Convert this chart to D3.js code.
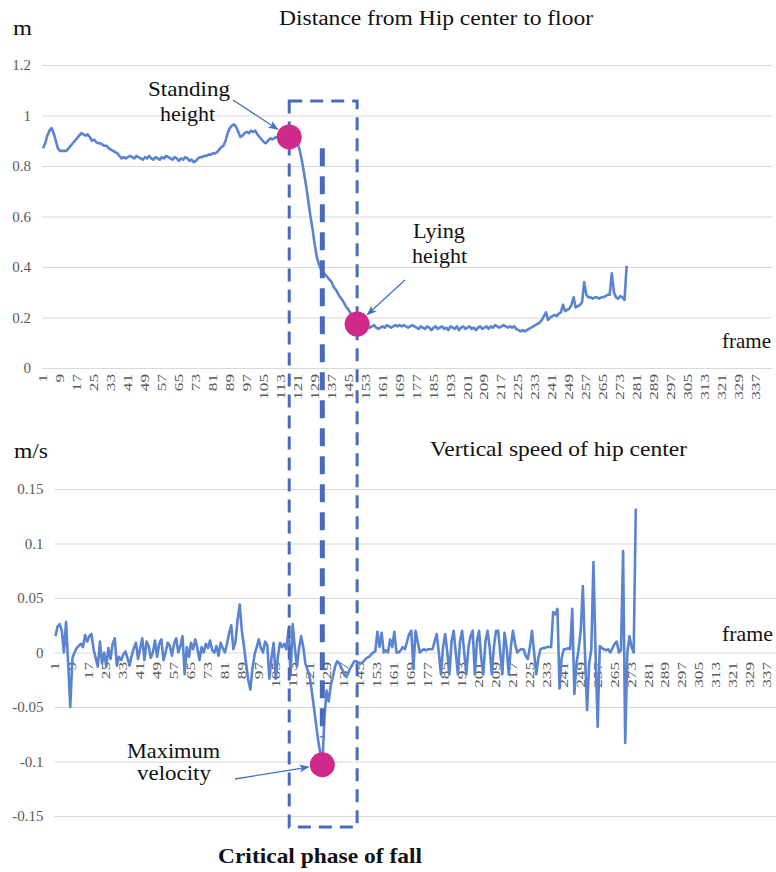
<!DOCTYPE html>
<html>
<head>
<meta charset="utf-8">
<script src="https://cdn.jsdelivr.net/npm/d3@7"></script>
<style>
	body { margin: 0; background: #fff; }
	text { font-family: "Liberation Serif", "Times New Roman", serif; }
</style>
</head>
<body>
<div id="chart"></div>
<script>
//categories : numeros de frame affiches sur l'axe x
var frames = d3.range(1, 345);
var xTickLabels = ["1","9","17","25","33","41","49","57","65","73","81","89","97","105","113","121","129","137","145","153","161","169","177","185","193","201","209","217","225","233","241","249","257","265","273","281","289","297","305","313","321","329","337"];

//graduations des deux axes y
var heightTicks = [0, 0.2, 0.4, 0.6, 0.8, 1, 1.2];
var heightTickLabels = ["0", "0.2", "0.4", "0.6", "0.8", "1", "1.2"];
var speedTicks = [-0.15, -0.1, -0.05, 0, 0.05, 0.1, 0.15];
var speedTickLabels = ["-0.15", "-0.1", "-0.05", "0", "0.05", "0.1", "0.15"];

//distance hanche - sol (m), une valeur par frame
var hipHeight = [
	0.87,0.89,0.92,0.94,0.95,0.93,0.90,0.87,0.86,0.86,
	0.86,0.86,0.87,0.88,0.89,0.90,0.91,0.92,0.93,0.925,
	0.92,0.925,0.915,0.90,0.905,0.895,0.89,0.89,0.885,0.88,
	0.88,0.87,0.865,0.86,0.855,0.85,0.84,0.83,0.835,0.83,
	0.835,0.84,0.835,0.83,0.84,0.835,0.83,0.825,0.835,0.83,
	0.84,0.83,0.825,0.835,0.83,0.825,0.835,0.83,0.84,0.835,
	0.83,0.825,0.835,0.83,0.82,0.83,0.825,0.835,0.83,0.82,
	0.825,0.815,0.82,0.83,0.835,0.835,0.84,0.84,0.845,0.845,
	0.85,0.85,0.855,0.865,0.875,0.88,0.90,0.93,0.95,0.96,
	0.965,0.955,0.935,0.915,0.92,0.93,0.935,0.93,0.94,0.935,
	0.94,0.925,0.915,0.905,0.895,0.89,0.90,0.91,0.905,0.91,
	0.915,0.91,0.915,0.92,0.91,0.915,0.915,0.92,0.915,0.90,
	0.89,0.86,0.82,0.77,0.72,0.66,0.60,0.55,0.49,0.44,
	0.41,0.39,0.38,0.37,0.36,0.35,0.34,0.32,0.31,0.295,
	0.28,0.27,0.255,0.24,0.23,0.215,0.20,0.185,0.175,0.17,
	0.175,0.17,0.165,0.17,0.16,0.165,0.17,0.16,0.155,0.16,
	0.165,0.16,0.17,0.165,0.16,0.165,0.17,0.165,0.17,0.165,
	0.17,0.165,0.16,0.165,0.17,0.165,0.16,0.155,0.165,0.16,
	0.155,0.165,0.16,0.15,0.16,0.165,0.155,0.16,0.165,0.155,
	0.16,0.15,0.165,0.16,0.155,0.165,0.15,0.16,0.165,0.155,
	0.16,0.165,0.155,0.16,0.15,0.16,0.165,0.155,0.16,0.165,
	0.155,0.165,0.16,0.17,0.165,0.16,0.165,0.17,0.165,0.16,
	0.165,0.16,0.165,0.155,0.15,0.145,0.15,0.145,0.15,0.155,
	0.16,0.165,0.17,0.175,0.18,0.19,0.205,0.22,0.19,0.20,
	0.205,0.21,0.205,0.215,0.22,0.25,0.225,0.23,0.235,0.25,
	0.28,0.24,0.245,0.25,0.26,0.34,0.29,0.28,0.28,0.275,
	0.28,0.28,0.275,0.28,0.28,0.285,0.29,0.29,0.375,0.30,
	0.28,0.275,0.285,0.28,0.27,0.405
];

//vitesse verticale du centre de la hanche (m/s)
var hipSpeed = [
	0.015,0.024,0.026,0.02,0.0,0.028,-0.01,-0.05,-0.005,0.0,
	0.004,0.006,0.008,0.005,0.016,0.01,0.015,0.017,0.003,-0.005,
	-0.013,0.01,-0.01,0.0,-0.013,0.004,-0.006,0.008,0.013,-0.012,
	-0.004,-0.007,-0.002,0.001,-0.005,-0.012,-0.003,0.004,0.009,-0.006,
	0.004,0.013,-0.007,0.01,0.006,-0.005,0.0,0.011,-0.004,0.008,
	0.012,-0.007,0.0,0.009,0.006,-0.003,0.008,0.013,0.0,0.006,
	0.015,-0.02,0.005,-0.004,0.009,0.003,0.012,0.004,-0.007,0.005,
	0.0,0.008,0.004,0.011,0.002,0.0,0.006,-0.003,0.009,0.004,
	0.0,0.008,0.018,0.025,0.003,0.01,0.03,0.044,0.02,0.006,
	-0.01,-0.025,-0.034,-0.015,-0.002,0.005,0.012,0.004,0.0,0.01,
	0.007,-0.024,-0.005,0.009,-0.024,-0.004,0.009,0.005,0.008,0.003,
	0.021,-0.021,0.026,0.005,-0.013,0.004,0.015,0.005,-0.01,-0.016,
	-0.022,-0.035,-0.05,-0.065,-0.08,-0.092,-0.103,-0.06,-0.035,-0.045,
	-0.03,-0.022,-0.013,-0.008,-0.01,-0.014,-0.018,-0.022,-0.02,-0.015,
	-0.012,-0.008,-0.008,-0.009,-0.01,-0.009,-0.007,-0.005,-0.004,-0.002,
	0.0,0.001,0.019,0.005,0.018,0.0,0.002,0.0,0.012,0.005,
	0.019,0.0,0.0,0.002,0.005,0.003,0.01,0.017,0.02,-0.015,
	0.02,0.01,0.0,0.002,0.003,0.002,0.003,0.003,0.003,0.01,
	0.017,0.0,-0.02,0.005,0.017,0.0,-0.02,0.01,0.02,0.0,
	-0.02,0.01,0.02,0.0,-0.02,0.005,0.015,0.02,-0.02,0.01,
	0.02,-0.005,-0.02,0.01,0.02,0.005,-0.02,0.005,0.02,0.02,
	0.0,-0.02,0.018,0.005,-0.02,0.005,0.02,0.008,0.0,0.002,
	0.003,0.003,-0.003,-0.006,0.005,0.02,0.0,-0.02,-0.005,0.003,
	0.004,0.004,0.005,0.005,0.005,0.037,0.035,0.04,-0.033,-0.005,
	0.003,0.003,0.004,0.003,0.04,-0.038,-0.01,0.003,0.02,0.061,
	0.0,-0.053,-0.01,0.003,0.083,0.0,-0.068,0.006,0.004,0.003,
	0.002,0.003,0.0,0.004,0.008,0.01,0.0,0.002,0.093,-0.083,
	0.0,0.015,0.005,0.0,0.132
];

//points remarquables : [frame, valeur]
var standingPoint = [117, 0.915];
var lyingPoint = [149, 0.174];
var maxSpeedPoint = [127, -0.103];
//phase critique : frames de debut / fin, et limites verticales
var criticalPhase = [117, 149];
var criticalTop = 1.057, criticalBottom = -0.16;
var peakFrame = 127;

//ecrit un texte, etire a la largeur voulue
function label(g, str, x, y, size, len, bold)
{
	var t = g.append("text")
		.attr("x", x)
		.attr("y", y)
		.attr("font-size", size)
		.attr("fill", "#111")
		.text(str);
	if (bold) t.attr("font-weight", "bold");
	if (len) t.attr("textLength", len).attr("lengthAdjust", "spacingAndGlyphs");
	return t;
}

function drawChart(boxName)
{
	var width = 776,
		height = 872;

	var svg = d3.select(boxName)
		.append("svg")
		.attr("width", width)
		.attr("height", height);

	var lineColor = "#5a84d2",
		boxColor = "#4a6bbd",
		dotColor = "#cf2a89",
		tickColor = "#595959";

	//echelles du graphe du haut
	var xTop = d3.scaleBand().domain(frames).range([42, 772]);
	var yTop = d3.scaleLinear().domain([0, 1.2]).range([368, 65]);
	//echelles du graphe du bas (decale a droite)
	var xBot = d3.scaleBand().domain(frames).range([54.4, 783]);
	var yBot = d3.scaleLinear().domain([-0.15, 0.15]).range([816, 489]);

	var cxTop = function(f) { return xTop(f) + xTop.bandwidth() / 2; };
	var cxBot = function(f) { return xBot(f) + xBot.bandwidth() / 2; };

	//grilles + etiquettes y
	function yGrid(scale, x0, x1, ticks, labels)
	{
		var g = svg.append("g")
			.attr("transform", "translate(" + x0 + ",0)")
			.call(d3.axisLeft(scale)
				.tickValues(ticks)
				.tickFormat(function(d, i) { return labels[i]; })
				.tickSize(-(x1 - x0))
				.tickPadding(11));
		g.select(".domain").remove();
		g.selectAll("line").attr("stroke", "#d9d9d9");
		g.selectAll("text")
			.attr("fill", tickColor)
			.attr("font-size", 15)
			.attr("font-family", "Liberation Serif, serif");
	}
	yGrid(yTop, 42, 772, heightTicks, heightTickLabels);
	yGrid(yBot, 54.4, 776, speedTicks, speedTickLabels);

	//etiquettes x tournees
	function xLabels(cx, y)
	{
		svg.append("g")
			.selectAll("text")
			.data(xTickLabels)
			.join("text")
			.attr("transform", function(d) { return "translate(" + cx(+d) + "," + y + ") rotate(-90)"; })
			.attr("text-anchor", "end")
			.attr("dy", "0.35em")
			.attr("font-size", 11.5)
			.attr("fill", tickColor)
			.attr("textLength", function(d) { return d.length * 8.6; })
			.attr("lengthAdjust", "spacingAndGlyphs")
			.text(function(d) { return d; });
	}
	xLabels(cxTop, 374);
	xLabels(cxBot, 662);

	//courbes
	svg.append("path")
		.datum(hipHeight)
		.attr("fill", "none")
		.attr("stroke", lineColor)
		.attr("stroke-width", 2.6)
		.attr("stroke-linejoin", "round")
		.attr("d", d3.line()
			.x(function(d, i) { return cxTop(i + 1); })
			.y(function(d) { return yTop(d); }));

	svg.append("path")
		.datum(hipSpeed)
		.attr("fill", "none")
		.attr("stroke", lineColor)
		.attr("stroke-width", 2.6)
		.attr("stroke-linejoin", "round")
		.attr("d", d3.line()
			.x(function(d, i) { return cxBot(i + 1); })
			.y(function(d) { return yBot(d); }));

	//cadre en pointilles de la phase critique
	var bx0 = cxTop(criticalPhase[0]),
		bx1 = cxTop(criticalPhase[1]),
		by0 = yTop(criticalTop),
		by1 = yBot(criticalBottom);
	svg.append("rect")
		.attr("x", bx0)
		.attr("y", by0)
		.attr("width", bx1 - bx0)
		.attr("height", by1 - by0)
		.attr("fill", "none")
		.attr("stroke", boxColor)
		.attr("stroke-width", 3)
		.attr("stroke-dasharray", "13,8");

	//ligne epaisse au pic de vitesse
	svg.append("line")
		.attr("x1", cxBot(peakFrame))
		.attr("x2", cxBot(peakFrame))
		.attr("y1", yTop(0.87))
		.attr("y2", yBot(-0.078))
		.attr("stroke", boxColor)
		.attr("stroke-width", 5)
		.attr("stroke-dasharray", "18,10");

	//fleches
	svg.append("defs").append("marker")
		.attr("id", "arrow")
		.attr("markerUnits", "userSpaceOnUse")
		.attr("markerWidth", 10)
		.attr("markerHeight", 8)
		.attr("refX", 9)
		.attr("refY", 4)
		.attr("orient", "auto")
		.append("path")
		.attr("d", "M0,0 L10,4 L0,8 L2.5,4 z")
		.attr("fill", "#4472c4");

	var dots = [
		{ cx: cxTop(standingPoint[0]), cy: yTop(standingPoint[1]), from: [233, 100] },
		{ cx: cxTop(lyingPoint[0]), cy: yTop(lyingPoint[1]), from: [405, 280] },
		{ cx: cxBot(maxSpeedPoint[0]), cy: yBot(maxSpeedPoint[1]), from: [235, 779] }
	];

	svg.append("g")
		.selectAll("circle")
		.data(dots)
		.join("circle")
		.attr("cx", function(d) { return d.cx; })
		.attr("cy", function(d) { return d.cy; })
		.attr("r", 12.5)
		.attr("fill", dotColor);

	svg.append("g")
		.selectAll("line")
		.data(dots)
		.join("line")
		.attr("x1", function(d) { return d.from[0]; })
		.attr("y1", function(d) { return d.from[1]; })
		.attr("x2", function(d) {
			var dx = d.from[0] - d.cx, dy = d.from[1] - d.cy, k = 14 / Math.sqrt(dx * dx + dy * dy);
			return d.cx + dx * k;
		})
		.attr("y2", function(d) {
			var dx = d.from[0] - d.cx, dy = d.from[1] - d.cy, k = 14 / Math.sqrt(dx * dx + dy * dy);
			return d.cy + dy * k;
		})
		.attr("stroke", "#4472c4")
		.attr("stroke-width", 1.3)
		.attr("marker-end", "url(#arrow)");

	//textes
	label(svg, "m", 13, 35, 22, 19);
	label(svg, "Distance from Hip center to floor", 279, 25, 20, 314);
	label(svg, "Standing", 148, 96, 21, 82);
	label(svg, "height", 160, 121, 21, 55);
	label(svg, "Lying", 413, 238, 21, 52);
	label(svg, "height", 412, 263, 21, 55);
	label(svg, "frame", 722, 348, 21, 49);
	label(svg, "m/s", 14, 458, 22, 34);
	label(svg, "Vertical  speed of hip center", 430, 456, 21, 257);
	label(svg, "frame", 722, 641, 21, 51);
	label(svg, "Maximum", 127, 758, 21, 93);
	label(svg, "velocity", 137, 780, 21, 74);
	label(svg, "Critical phase of fall", 218, 863, 22, 204, true);
}

drawChart("#chart");
</script>
</body>
</html>
